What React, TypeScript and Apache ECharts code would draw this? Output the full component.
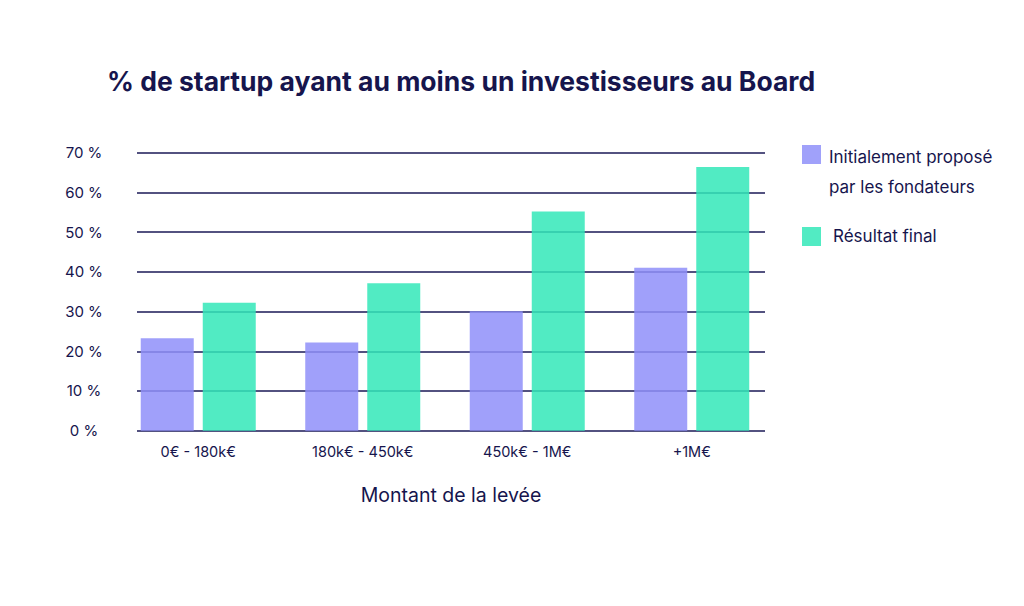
import React, { useEffect, useRef } from "react";
import * as echarts from "echarts";

const categories = ["0€ - 180k€", "180k€ - 450k€", "450k€ - 1M€", "+1M€"];
const initialValues = [23.3, 22.2, 30.1, 41.0];
const finalValues = [32.2, 37.1, 55.2, 66.4];
const yTicks = { min: 0, max: 70, interval: 10 };
const seriesNames = ["Initialement proposé par les fondateurs", "Résultat final"];

const NAVY = "#16154d";
const PURPLE = "rgb(143,143,249)";
const GREEN = "rgb(51,231,184)";
const FONT = "Inter, 'Noto Sans', sans-serif";

export default function App() {
  const ref = useRef<HTMLDivElement>(null);
  useEffect(() => {
    if (!ref.current) return;
    const chart = echarts.init(ref.current, undefined, { renderer: "svg" });
    chart.setOption({
      animation: false,
      backgroundColor: "#ffffff",
      title: {
        text: "% de startup ayant au moins un investisseurs au Board",
        left: 102,
        top: 62,
        textStyle: { color: NAVY, fontFamily: FONT, fontSize: 26.5, fontWeight: "bold" },
      },
      grid: [
        { left: 137, right: 259, top: 152.7, bottom: 175.3 },
        { left: 116, right: 250, top: 152.7, bottom: 175.3 },
      ],
      xAxis: [
        {
          type: "category",
          gridIndex: 0,
          data: categories,
          axisLine: { show: false },
          axisTick: { show: false },
          axisLabel: { show: false },
          name: "Montant de la levée",
          nameLocation: "middle",
          nameGap: 54,
          nameTextStyle: { color: NAVY, fontFamily: FONT, fontSize: 19.5 },
        },
        {
          type: "category",
          gridIndex: 1,
          data: categories,
          axisLine: { show: false },
          axisTick: { show: false },
          axisLabel: { color: NAVY, fontFamily: FONT, fontSize: 14.5, margin: 13 },
        },
      ],
      yAxis: [
        {
          type: "value",
          gridIndex: 0,
          min: yTicks.min,
          max: yTicks.max,
          interval: yTicks.interval,
          axisLine: { show: false },
          axisTick: { show: false },
          axisLabel: {
            color: NAVY,
            fontFamily: FONT,
            fontSize: 15,
            align: "center",
            margin: 53,
            formatter: (v: number) => `${v} %`,
          },
          splitLine: { lineStyle: { color: "#1a1956", width: 1.5 } },
        },
        {
          type: "value",
          gridIndex: 1,
          min: yTicks.min,
          max: yTicks.max,
          interval: yTicks.interval,
          show: false,
        },
      ],
      series: [
        {
          name: seriesNames[0],
          type: "bar",
          xAxisIndex: 1,
          yAxisIndex: 1,
          data: initialValues,
          barWidth: 53,
          barGap: "17%",
          itemStyle: { color: PURPLE, opacity: 0.85 },
        },
        {
          name: seriesNames[1],
          type: "bar",
          xAxisIndex: 1,
          yAxisIndex: 1,
          data: finalValues,
          barWidth: 53,
          barGap: "17%",
          itemStyle: { color: GREEN, opacity: 0.85 },
        },
      ],
      graphic: [
        { type: "rect", left: 802, top: 145, shape: { width: 19, height: 19 }, style: { fill: "#a0a1fa" } },
        {
          type: "text",
          left: 829,
          top: 142,
          style: {
            text: "Initialement proposé\npar les fondateurs",
            fill: NAVY,
            font: `17px ${FONT}`,
            lineHeight: 30,
          },
        },
        { type: "rect", left: 802, top: 227, shape: { width: 19, height: 19 }, style: { fill: "#52ebc3" } },
        {
          type: "text",
          left: 833,
          top: 225,
          style: { text: "Résultat final", fill: NAVY, font: `17px ${FONT}`, lineHeight: 22 },
        },
      ],
    });
    return () => chart.dispose();
  }, []);
  return (
    <div
      ref={ref}
      style={{ position: "absolute", left: 0, top: 0, width: 1024, height: 606 }}
    />
  );
}
